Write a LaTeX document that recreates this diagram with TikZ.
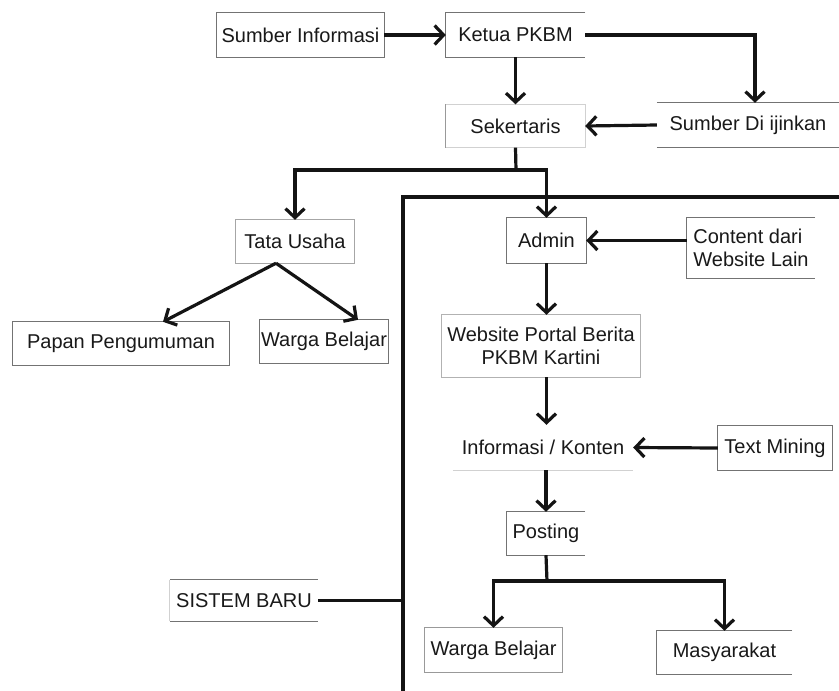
\documentclass[tikz,border=0pt]{standalone}
\usepackage{fontspec}
\setmainfont{Liberation Sans}
\usetikzlibrary{arrows.meta}
\begin{document}
\begin{tikzpicture}[x=1pt,y=-1pt,
  conn/.style={line width=3.2pt, draw=black!92, -{Straight Barb[length=9pt,width=19pt]}},
  plain/.style={line width=3.2pt, draw=black!92},
  lbl/.style={font=\fontsize{20}{23}\selectfont, text=black!90, inner sep=0pt, align=center},
  edge/.style={draw=black!55, line width=1.1pt},
  faint/.style={draw=black!18, line width=1pt}
]
\useasboundingbox (0,0) rectangle (839,691);
\fill[white] (0,0) rectangle (839,691);

% nodes
\node[lbl, minimum width=167pt, minimum height=44pt] (si) at (300.5,35) {Sumber Informasi};
\node[lbl, minimum width=139pt, minimum height=44pt] (ketua) at (515.5,35) {Ketua PKBM};
\node[lbl, minimum width=139pt, minimum height=43pt] (sek) at (515.5,126) {Sekertaris};
\node[lbl, minimum width=182pt, minimum height=44pt] (sdi) at (748,125) {Sumber Di ijinkan};
\node[lbl, minimum width=118pt, minimum height=43pt] (ta) at (295,241.5) {Tata Usaha};
\node[lbl, minimum width=216pt, minimum height=43pt] (pp) at (121,343.5) {Papan Pengumuman};
\node[lbl, minimum width=128pt, minimum height=43pt] (wb1) at (324,341.5) {Warga Belajar};
\node[lbl, minimum width=79pt, minimum height=45pt] (admin) at (546.5,240.5) {Admin};
\node[lbl, align=left, minimum width=128pt, minimum height=60pt] (cwl) at (751,248) {Content dari\\Website Lain};
\node[lbl, minimum width=198pt, minimum height=62pt] (wp) at (541,346) {Website Portal Berita\\PKBM Kartini};
\node[lbl, minimum width=180pt, minimum height=45pt] (ik) at (543,447.5) {Informasi / Konten};
\node[lbl, minimum width=114pt, minimum height=44pt] (tm) at (775,448) {Text Mining};
\node[lbl, minimum width=78pt, minimum height=43pt] (post) at (546,533.5) {Posting};
\node[lbl, minimum width=137pt, minimum height=44pt] (wb2) at (493.5,650) {Warga Belajar};
\node[lbl, minimum width=135pt, minimum height=43pt] (mas) at (724.5,652.5) {Masyarakat};
\node[lbl, minimum width=148pt, minimum height=41pt] (sb) at (244,600.5) {SISTEM BARU};

% box borders
\draw[edge] (si.north west) rectangle (si.south east);
\draw[edge] (ketua.north east) -- (ketua.north west) -- (ketua.south west) -- (ketua.south east);
\draw[faint] (sek.north west) rectangle (sek.south east);
\draw[edge, draw=black!40] (sek.north west) -- (sek.south west);
\draw[edge] (sdi.north west) -- (sdi.north east);
\draw[edge] (sdi.south west) -- (sdi.south east);
\draw[edge, draw=black!35] (ta.north west) rectangle (ta.south east);
\draw[edge] (pp.north west) rectangle (pp.south east);
\draw[edge] (wb1.north west) rectangle (wb1.south east);
\draw[edge] (admin.north west) rectangle (admin.south east);
\draw[edge] (cwl.north east) -- (cwl.north west) -- (cwl.south west) -- (cwl.south east);
\draw[edge, draw=black!30] (wp.north west) rectangle (wp.south east);
\draw[faint] (ik.south west) -- (ik.south east);
\draw[edge] (tm.north west) rectangle (tm.south east);
\draw[edge] (post.north east) -- (post.north west) -- (post.south west) -- (post.south east);
\draw[edge, draw=black!40] (wb2.north west) rectangle (wb2.south east);
\draw[edge] (mas.north east) -- (mas.north west) -- (mas.south west) -- (mas.south east);
\draw[edge] (sb.north west) -- (sb.north east);
\draw[edge] (sb.south west) -- (sb.south east);
\draw[faint] (sb.north west) -- (sb.south west);

% frame of the new system
\coordinate (fbot) at (403,691);
\coordinate (ftl) at (403,197);
\coordinate (fright) at (839,197);
\coordinate (fsb) at (403,600.5);
\draw[plain] (fbot) -- (ftl) -- (fright);

% connectors
\draw[conn] (si.east) -- (ketua.west);
\draw[conn] (ketua.east) -| ([xshift=7pt]sdi.north);
\draw[conn] (sdi.west) -- (sek.east);
\draw[conn] (ketua.south) -- (sek.north);
\coordinate (j1) at (516,170);
\draw[plain] (sek.south) -- (j1);
\draw[conn] (j1) -| (ta.north);
\draw[conn] (j1) -| (admin.north);
\draw[conn] ([xshift=-19pt]ta.south) -- ([xshift=42pt]pp.north);
\draw[conn] ([xshift=-19pt]ta.south) -- ([xshift=34pt]wb1.north);
\draw[conn] (cwl.west |- admin.east) -- (admin.east);
\draw[conn] (admin.south) -- (admin.south |- wp.north);
\draw[conn] (admin.south |- wp.south) -- (admin.south |- ik.north);
\draw[conn] (tm.west) -- (ik.east);
\draw[conn] (post.north |- ik.south) -- (post.north);
\coordinate (j2) at (547,581);
\draw[plain] (post.south) -- (j2);
\draw[conn] (j2) -| (wb2.north);
\draw[conn] (j2) -| (mas.north);
\draw[plain] (sb.east) -- (fsb);
\end{tikzpicture}
\end{document}
